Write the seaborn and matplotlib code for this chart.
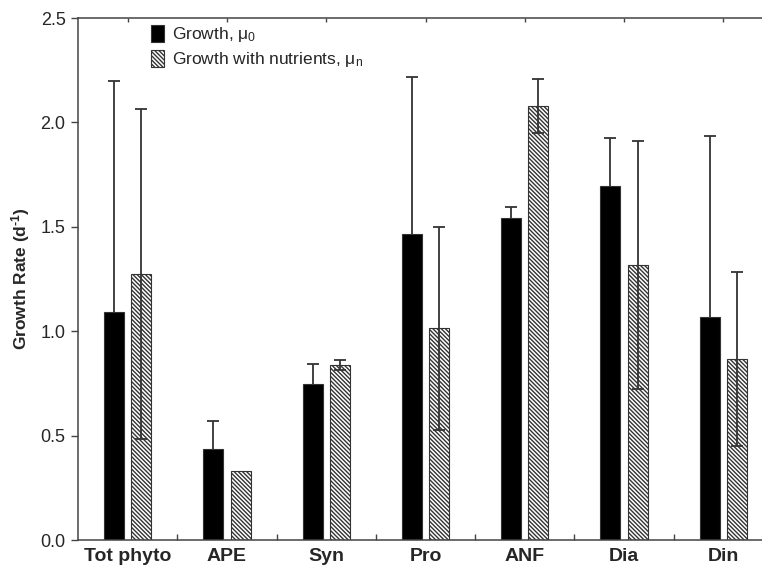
import numpy as np
import pandas as pd
import matplotlib
matplotlib.use("Agg")
import matplotlib.pyplot as plt
import seaborn as sns

# Phytoplankton groups and growth rates (d^-1)
groups = ["Tot phyto", "APE", "Syn", "Pro", "ANF", "Dia", "Din"]
growth = [1.09, 0.434, 0.747, 1.466, 1.544, 1.695, 1.066]
growth_err = [1.11, 0.137, 0.097, 0.75, 0.05, 0.229, 0.869]
growth_nut = [1.275, 0.330, 0.837, 1.014, 2.079, 1.317, 0.867]
growth_nut_err = [0.79, 0.0, 0.025, 0.487, 0.128, 0.592, 0.418]
series = ["Growth, $\\mathregular{μ_0}$", "Growth with nutrients, $\\mathregular{μ_n}$"]

sns.set_theme(style="ticks")
plt.rcParams["font.family"] = ["Liberation Sans", "DejaVu Sans"]
plt.rcParams["mathtext.fontset"] = "custom"
plt.rcParams["mathtext.rm"] = "Liberation Sans"
plt.rcParams["mathtext.it"] = "Liberation Sans"
plt.rcParams["mathtext.bf"] = "Liberation Sans:bold"
plt.rcParams["hatch.linewidth"] = 1.0
plt.rcParams["hatch.color"] = "black"

df = pd.DataFrame({
    "group": groups * 2,
    "rate": growth + growth_nut,
    "series": [series[0]] * len(groups) + [series[1]] * len(groups),
})

fig = plt.figure(figsize=(7.62, 5.70), dpi=100)
ax = fig.add_axes([0.1024, 0.0526, 0.912, 0.9158])

sns.barplot(data=df, x="group", y="rate", hue="series", order=groups,
            hue_order=series, palette=["black", "white"], width=0.55,
            gap=0.27, edgecolor="#333333", linewidth=0.8, legend=False,
            errorbar=None, ax=ax)

# hatch the nutrient-amended bars
for p in ax.containers[1]:
    p.set_hatch("\\" * 8)

# error bars placed on the drawn bars; the solid bars hide their lower half
for cont, errs, z in zip(ax.containers, [growth_err, growth_nut_err], [0.5, 5]):
    xs = np.array([p.get_x() + p.get_width() / 2 for p in cont])
    ys = np.array([p.get_height() for p in cont])
    e = np.array(errs)
    m = e > 0
    ax.errorbar(xs[m], ys[m], yerr=e[m], fmt="none", ecolor="#333333",
                elinewidth=1.3, capsize=4, capthick=1.3, zorder=z)

ax.set_xlim(-0.5, 6.5)
ax.set_ylim(0, 2.5)
ax.set_yticks(np.arange(0, 2.51, 0.5))
ax.set_yticklabels([f"{v:.1f}" for v in np.arange(0, 2.51, 0.5)], fontsize=13)
ax.set_xticks(range(len(groups)))
ax.set_xticklabels(groups, fontsize=14, fontweight="bold")
ax.set_xticks(np.arange(0.5, 6.5, 1.0), minor=True)
ax.set_xlabel("")
ax.set_ylabel("Growth Rate (d$^{\\mathbf{\u2010}\\mathbf{1}}$)", fontsize=12.5,
              fontweight="bold", labelpad=6)

for side in ["left", "top", "bottom"]:
    ax.spines[side].set_color("#444444")
    ax.spines[side].set_linewidth(1.1)
ax.spines["right"].set_visible(False)

ax.tick_params(axis="y", which="major", direction="out", length=5,
               width=1, color="#444444", left=True, right=False, pad=4)
ax.tick_params(axis="x", which="major", bottom=False, top=True,
               direction="in", length=3, width=1, color="#444444",
               labelbottom=True, labeltop=False, pad=6)
ax.tick_params(axis="x", which="minor", bottom=True, top=False,
               direction="in", length=4, width=1, color="#444444")

ax.legend(handles=[ax.containers[0], ax.containers[1]], labels=series,
          loc="upper left", bbox_to_anchor=(0.088, 1.01), frameon=False,
          fontsize=12.5, handlelength=0.75, handleheight=1.1,
          handletextpad=0.45, labelspacing=0.35, borderpad=0.2)

fig.savefig("out.png", dpi=100)
